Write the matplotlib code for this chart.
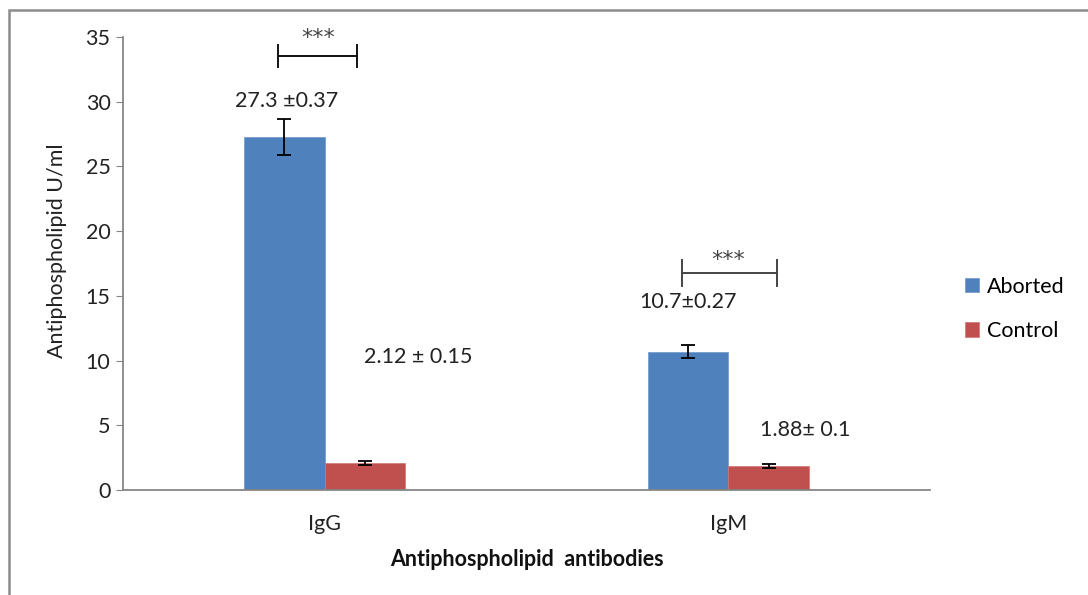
import matplotlib
matplotlib.use("Agg")
import matplotlib.pyplot as plt
from matplotlib.patches import Rectangle
import numpy as np

plt.rcParams['font.family'] = ['Lato', 'DejaVu Sans']

categories = ['IgG', 'IgM']
series = ['Aborted', 'Control']
aborted = [27.3, 10.7]
control = [2.12, 1.88]
aborted_err = [1.4, 0.5]
control_err = [0.15, 0.15]
value_labels_aborted = ['27.3 ±0.37', '10.7±0.27']
value_labels_control = ['2.12 ± 0.15', '1.88± 0.1']
yticks = [0, 5, 10, 15, 20, 25, 30, 35]

blue = '#4F81BD'
red = '#C0504D'
grey = '#868686'
FS = 15.5

fig = plt.figure(figsize=(10.88, 5.95), dpi=100)
fig.patches.append(Rectangle((9/1088, -0.05), 1.2, (585/595) + 0.05, transform=fig.transFigure,
                             fill=False, edgecolor='#8c8c8c', linewidth=1.8))
ax = fig.add_axes([123/1088, 105/595, 807/1088, 453/595])

x = np.arange(len(categories))
w = 0.2
ax.bar(x - w/2, aborted, w, color=blue, label=series[0], edgecolor='#6f96c8', linewidth=0.5)
ax.bar(x + w/2, control, w, color=red, label=series[1], edgecolor='#d07573', linewidth=0.5)
ax.errorbar(x - w/2, aborted, yerr=aborted_err, fmt='none', ecolor='black', elinewidth=1.3, capsize=5, capthick=1.3)
ax.errorbar(x + w/2, control, yerr=control_err, fmt='none', ecolor='black', elinewidth=1.3, capsize=5, capthick=1.3)

ax.set_xlim(-0.5, 1.5)
ax.set_ylim(0, 35)
ax.set_yticks(yticks)
ax.set_xticks(x)
ax.set_xticklabels(categories)
ax.tick_params(axis='y', direction='out', length=5, color=grey, labelsize=FS, pad=4, labelcolor='#222222')
ax.tick_params(axis='x', length=0, labelsize=FS, pad=17, labelcolor='#222222')
for s in ['top', 'right']:
    ax.spines[s].set_visible(False)
for s in ['left', 'bottom']:
    ax.spines[s].set_color(grey)
    ax.spines[s].set_linewidth(1.3)

ax.set_ylabel('Antiphospholipid U/ml', fontsize=FS, color='#222222', va='center')
ax.yaxis.set_label_coords((57 - 123) / 807, (490 - 251) / 453)
ax.set_xlabel('Antiphospholipid  antibodies', fontsize=FS, fontweight='bold', color='#111111', va='center')
ax.xaxis.set_label_coords((527 - 123) / 807, (490 - 560) / 453)

# value annotations
ax.text(-0.095, 30.05, value_labels_aborted[0], ha='center', va='center', fontsize=FS, color='#222222')
ax.text(0.232, 10.25, value_labels_control[0], ha='center', va='center', fontsize=FS, color='#222222')
ax.text(0.9, 14.5, value_labels_aborted[1], ha='center', va='center', fontsize=FS, color='#222222')
ax.text(1.19, 4.6, value_labels_control[1], ha='center', va='center', fontsize=FS, color='#222222')

# significance brackets
def bracket(x0, x1, y, h, color):
    ax.plot([x0, x1], [y, y], color=color, lw=1.4)
    ax.plot([x0, x0], [y - h, y + h], color=color, lw=1.4)
    ax.plot([x1, x1], [y - h, y + h], color=color, lw=1.4)

bracket(-0.116, 0.08, 33.5, 0.85, '#111111')
ax.text(-0.016, 34.95, '***', ha='center', va='center', fontsize=16, color='#444444',
        family='DejaVu Sans', clip_on=False)
bracket(0.885, 1.12, 16.8, 1.0, '#444444')
ax.text(1.0, 17.75, '***', ha='center', va='center', fontsize=16, color='#444444', family='DejaVu Sans')

leg = fig.legend(loc='upper left', bbox_to_anchor=(956/1088, 1 - 268/595), frameon=False,
                 fontsize=FS, handlelength=0.65, handleheight=0.65, handletextpad=0.4,
                 labelspacing=1.14, borderaxespad=0)

fig.savefig('out.png', dpi=100)
